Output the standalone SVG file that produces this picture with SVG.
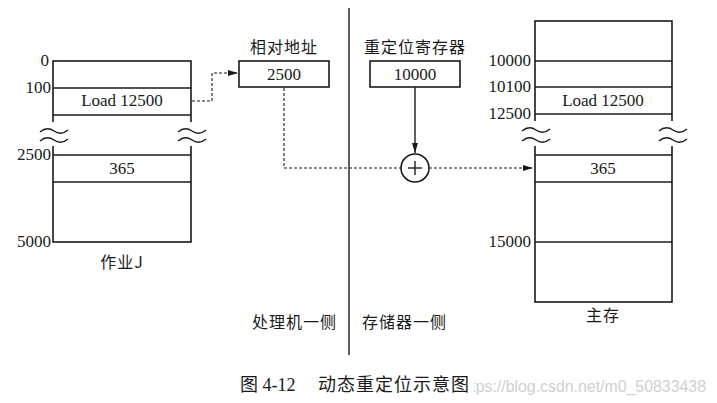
<svg xmlns="http://www.w3.org/2000/svg" width="717" height="403" viewBox="0 0 717 403">
<style>
.box{fill:#fff;stroke:#1a1a1a;stroke-width:1.6}
.ln{stroke:#1a1a1a;stroke-width:1.4;fill:none}
.ds{stroke:#1a1a1a;stroke-width:1.1;fill:none;stroke-dasharray:3,2}
.wv{stroke:#1a1a1a;stroke-width:1.4;fill:none}
.t{font-family:"Liberation Serif","Times New Roman",serif;font-size:17px;fill:#1a1a1a}
.c{font-family:"Noto Sans CJK SC",sans-serif;font-size:16px;fill:#1a1a1a;letter-spacing:1px}
.m{text-anchor:middle}
.r{text-anchor:end}
</style>
<defs>
<marker id="ah" viewBox="0 0 10 6" refX="10" refY="3" markerWidth="10" markerHeight="6" markerUnits="userSpaceOnUse" orient="auto">
<path d="M0,0 L10,3 L0,6 z" fill="#1a1a1a"/>
</marker>
</defs>
<rect width="717" height="403" fill="#fff"/>
<line class="ln" x1="349" y1="8" x2="349" y2="355"/>
<g id="jobJ">
<rect class="box" x="53" y="61" width="138" height="181"/>
<line class="ln" x1="53" y1="88" x2="191" y2="88"/>
<line class="ln" x1="53" y1="115" x2="191" y2="115"/>
<line class="ln" x1="53" y1="155" x2="191" y2="155"/>
<line class="ln" x1="53" y1="182" x2="191" y2="182"/>
<rect x="46" y="122" width="20" height="24" fill="#fff"/>
<rect x="180" y="122" width="24" height="24" fill="#fff"/>
<path class="wv" d="M40,132 q7,-6 14,-1 t14,-1"/>
<path class="wv" d="M40,141 q7,-6 14,-1 t14,-1"/>
<path class="wv" d="M178,132 q7,-6 14,-1 t14,-1"/>
<path class="wv" d="M178,141 q7,-6 14,-1 t14,-1"/>
<text class="t r" x="49" y="66">0</text>
<text class="t r" x="51" y="93">100</text>
<text class="t r" x="51" y="160">2500</text>
<text class="t r" x="51" y="247">5000</text>
<text class="t m" x="122" y="106">Load 12500</text>
<text class="t m" x="122" y="174">365</text>
<text class="c m" x="122" y="268">作业J</text>
</g>
<g id="relAddr">
<rect class="box" x="239" y="61" width="90" height="26"/>
<text class="t m" x="284" y="80">2500</text>
<text class="c m" x="284" y="53">相对地址</text>
</g>
<g id="relocReg">
<rect class="box" x="370" y="61" width="90" height="26"/>
<text class="t m" x="415" y="80">10000</text>
<text class="c m" x="415" y="53">重定位寄存器</text>
</g>
<g id="adder">
<circle cx="415" cy="168" r="14" fill="#fff" stroke="#1a1a1a" stroke-width="1.6"/>
<line class="ln" x1="408" y1="168" x2="422" y2="168" stroke-width="1.1"/>
<line class="ln" x1="415" y1="161" x2="415" y2="175" stroke-width="1.1"/>
</g>
<g id="mainMem">
<rect class="box" x="535" y="21" width="137" height="281"/>
<line class="ln" x1="535" y1="61" x2="672" y2="61"/>
<line class="ln" x1="535" y1="87" x2="672" y2="87"/>
<line class="ln" x1="535" y1="114" x2="672" y2="114"/>
<line class="ln" x1="535" y1="155" x2="672" y2="155"/>
<line class="ln" x1="535" y1="182" x2="672" y2="182"/>
<line class="ln" x1="535" y1="242" x2="672" y2="242"/>
<rect x="528" y="121" width="24" height="25" fill="#fff"/>
<rect x="660" y="121" width="24" height="25" fill="#fff"/>
<path class="wv" d="M522,131 q7,-6 14,-1 t14,-1"/>
<path class="wv" d="M522,141 q7,-6 14,-1 t14,-1"/>
<path class="wv" d="M659,131 q7,-6 14,-1 t14,-1"/>
<path class="wv" d="M659,141 q7,-6 14,-1 t14,-1"/>
<text class="t r" x="531" y="66">10000</text>
<text class="t r" x="531" y="92">10100</text>
<text class="t r" x="531" y="119">12500</text>
<text class="t r" x="531" y="247">15000</text>
<text class="t m" x="603" y="106">Load 12500</text>
<text class="t m" x="603" y="174">365</text>
<text class="c m" x="603" y="321">主存</text>
</g>
<g id="connectors">
<path class="ds" d="M192,101 H212 V73 H238" marker-end="url(#ah)"/>
<path class="ds" d="M284,88 V168 H401"/>
<line class="ln" x1="415" y1="87" x2="415" y2="153" stroke-width="1.1" marker-end="url(#ah)"/>
<path class="ds" d="M429,168 H533" marker-end="url(#ah)"/>
</g>
<g id="labels">
<text class="c" x="252" y="328">处理机一侧</text>
<text class="c" x="362" y="328">存储器一侧</text>
<text font-family="Liberation Sans,sans-serif" font-size="16" fill="#d0d0d0" x="458" y="392" textLength="248" lengthAdjust="spacingAndGlyphs">https://blog.csdn.net/m0_50833438</text>
<rect x="456" y="374" width="18" height="22" fill="#fff"/>
<text font-family="Liberation Serif,serif" font-size="18" fill="#1a1a1a" x="240" y="391"><tspan font-family="Noto Sans CJK SC,sans-serif">图</tspan> 4-12</text>
<text font-family="Noto Sans CJK SC,sans-serif" font-size="18" fill="#1a1a1a" x="318" y="391" letter-spacing="1">动态重定位示意图</text>
</g>
</svg>
